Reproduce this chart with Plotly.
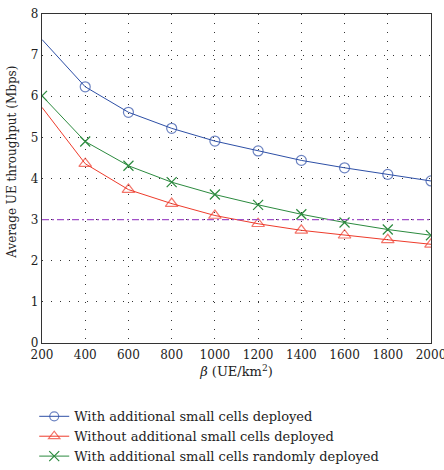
import plotly.graph_objects as go

beta = [200, 400, 600, 800, 1000, 1200, 1400, 1600, 1800, 2000]
with_cells = [7.38, 6.23, 5.61, 5.22, 4.91, 4.67, 4.44, 4.26, 4.10, 3.94]
without_cells = [5.73, 4.36, 3.73, 3.39, 3.10, 2.90, 2.74, 2.62, 2.51, 2.40]
random_cells = [6.01, 4.90, 4.31, 3.91, 3.61, 3.36, 3.13, 2.93, 2.76, 2.62]
threshold = [3.0] * len(beta)
y_ticks = [0, 1, 2, 3, 4, 5, 6, 7, 8]

names = [
    "With additional small cells deployed",
    "Without additional small cells deployed",
    "With additional small cells randomly deployed",
    "Minimum UE throughput threshold",
]
x_title = "<i>β</i> (UE/km<sup>2</sup>)"
y_title = "Average UE throughput (Mbps)"

FONT = "DejaVu Serif"
TXT = "#222222"
blue = "#2d4fa6"
red = "#ee3b2b"
green = "#2b8a3e"
purple = "#a150c8"

fig = go.Figure()
fig.add_trace(go.Scatter(
    x=beta, y=with_cells, name=names[0], mode="lines+markers",
    line=dict(color=blue, width=1),
    marker=dict(symbol="circle-open", size=[0] + [10] * 9, color=blue, line=dict(width=1.2)),
))
fig.add_trace(go.Scatter(
    x=beta, y=without_cells, name=names[1], mode="lines+markers",
    line=dict(color=red, width=1),
    marker=dict(symbol="triangle-up-open", size=[0] + [11] * 9, color=red, line=dict(width=1.2)),
))
fig.add_trace(go.Scatter(
    x=beta, y=random_cells, name=names[2], mode="lines+markers",
    line=dict(color=green, width=1),
    marker=dict(symbol="x-thin-open", size=10, color=green, line=dict(width=1.2, color=green)),
))
fig.add_trace(go.Scatter(
    x=beta, y=threshold, name=names[3], mode="lines",
    line=dict(color=purple, width=1.2, dash="7px,3px,2px,3px"),
))

axis_common = dict(
    showline=True, linecolor="#333333", linewidth=1.3, mirror=True,
    showgrid=True, gridcolor="#333333", griddash="1px,8px", gridwidth=1,
    zeroline=False, ticks="", ticklabeloverflow="allow", automargin=False,
    tickfont=dict(family=FONT, size=12, color=TXT),
)

fig.update_layout(
    width=444, height=470,
    margin=dict(l=42, r=13, t=14, b=127, autoexpand=False),
    paper_bgcolor="white", plot_bgcolor="white",
    font=dict(family=FONT, size=13, color=TXT),
    showlegend=True,
    legend=dict(
        x=-0.02, xanchor="left", xref="paper",
        y=-(401 - 342.7) / 328.7, yanchor="top", yref="paper",
        font=dict(family=FONT, size=13, color=TXT),
        tracegroupgap=0, itemwidth=30, bgcolor="rgba(0,0,0,0)",
        maxheight=200,
    ),
    xaxis=dict(
        range=[200, 2000], tickvals=beta, **axis_common,
        title=dict(text=x_title, font=dict(family=FONT, size=13), standoff=6),
    ),
    yaxis=dict(
        range=[0, 8], tickvals=y_ticks, **axis_common,
    ),
    annotations=[dict(
        text=y_title, textangle=-90, xref="paper", yref="paper",
        x=-0.078, y=0.55, xanchor="center", yanchor="middle", showarrow=False,
        font=dict(family=FONT, size=12, color=TXT),
    )],
)

fig.write_html("out.html")
